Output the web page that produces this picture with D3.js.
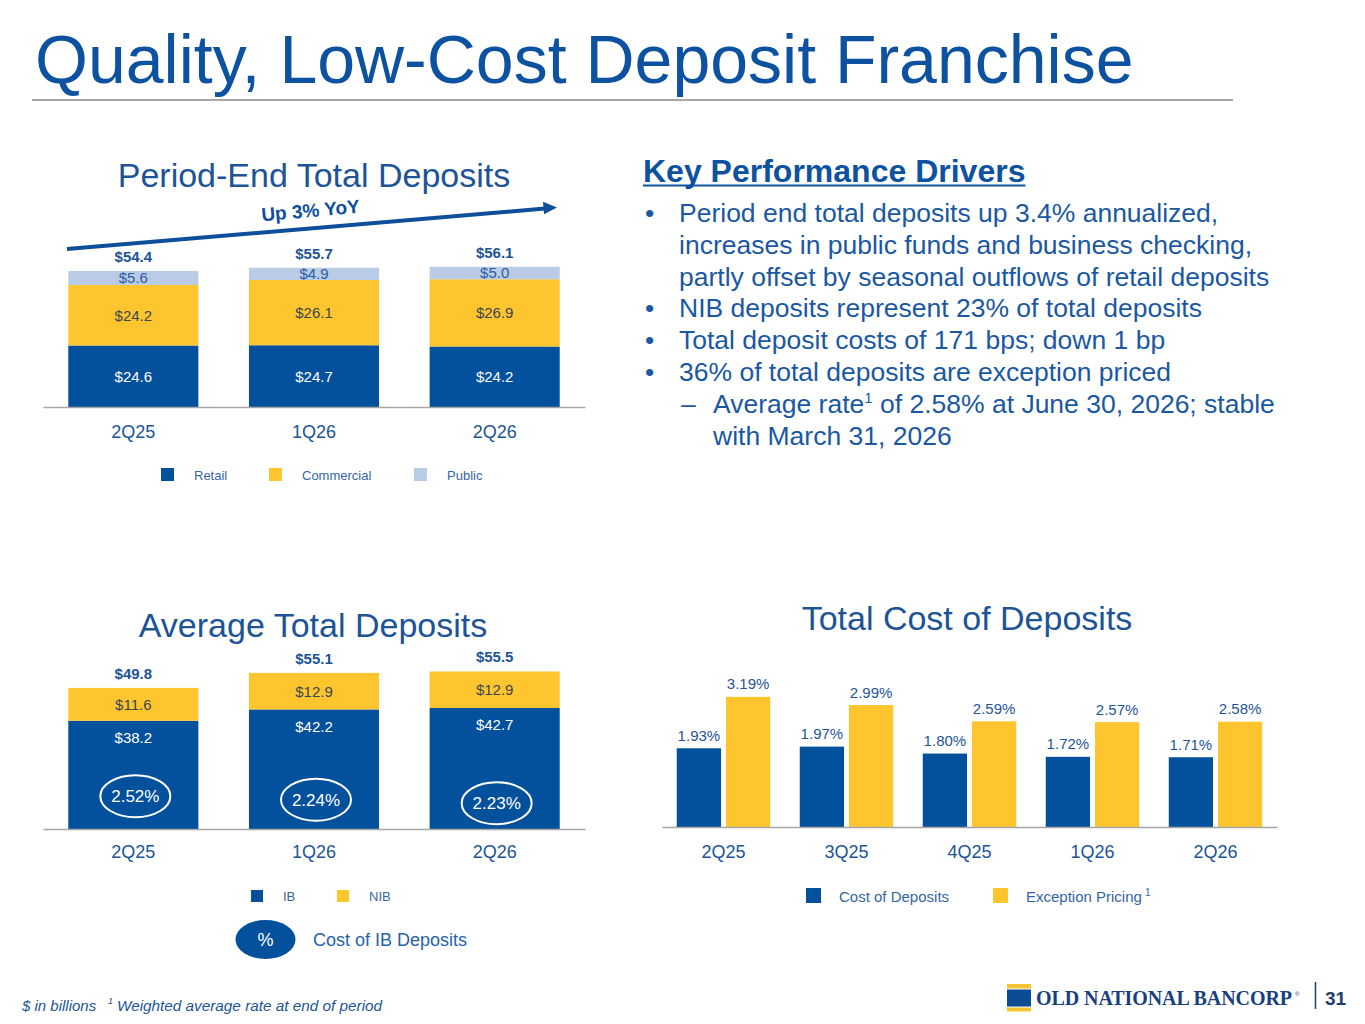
<!DOCTYPE html>
<html>
<head>
<meta charset="utf-8">
<script src="https://cdn.jsdelivr.net/npm/d3@7"></script>
<style>
body{margin:0;background:#fff}
svg{display:block;font-family:"Liberation Sans",Arial,sans-serif}
</style>
</head>
<body>
<div id="slide"></div>
<script>
// period-end deposits ($B)
const periodEndQuarters = ["2Q25","1Q26","2Q26"]
const retail = [24.6,24.7,24.2]
const commercial = [24.2,26.1,26.9]
const publicFunds = [5.6,4.9,5.0]
const periodEndTotals = [54.4,55.7,56.1]

// average deposits ($B)
const avgQuarters = ["2Q25","1Q26","2Q26"]
const ib = [38.2,42.2,42.7]
const nib = [11.6,12.9,12.9]
const avgTotals = [49.8,55.1,55.5]
const ibCost = [2.52,2.24,2.23]

// total cost of deposits (%)
const costQuarters = ["2Q25","3Q25","4Q25","1Q26","2Q26"]
const costOfDeposits = [1.93,1.97,1.80,1.72,1.71]
const exceptionPricing = [3.19,2.99,2.59,2.57,2.58]

const navy = "#03509c", gold = "#fec52e", light = "#b9cbe5"
const blueText = "#1c5496", font = "Liberation Sans, Arial, sans-serif"

const svg = d3.select("#slide").append("svg")
    .attr("width", 1365)
    .attr("height", 1024)

// header
svg.append("text")
    .attr("x", 35).attr("y", 83)
    .attr("font-size", 68)
    .attr("fill", "#0d52a0")
    .text("Quality, Low-Cost Deposit Franchise")

svg.append("line")
    .attr("x1", 32).attr("x2", 1233)
    .attr("y1", 100).attr("y2", 100)
    .attr("stroke", "#a6a6a6").attr("stroke-width", 2)

function chartTitle(txt, x, y) {
    svg.append("text")
        .attr("x", x).attr("y", y)
        .attr("text-anchor", "middle")
        .attr("font-size", 34)
        .attr("fill", blueText)
        .text(txt)
}

function styleAxis(g, size) {
    g.attr("font-family", font).attr("font-size", size)
    g.select(".domain").attr("stroke", "#a6a6a6").attr("stroke-width", 1.6)
    g.selectAll("text").attr("fill", blueText)
}

function legendItem(x, y, size, color, label, fs) {
    svg.append("rect")
        .attr("x", x).attr("y", y)
        .attr("width", size).attr("height", size)
        .attr("fill", color)
    return svg.append("text")
        .attr("x", x + size + (fs > 14 ? 18 : 20)).attr("y", y + size - 1)
        .attr("font-size", fs)
        .attr("fill", "#3565a5")
        .text(label)
}

// ---------- Period-End Total Deposits ----------
chartTitle("Period-End Total Deposits", 314, 187)

const x1 = d3.scaleBand()
    .domain(periodEndQuarters)
    .range([43, 585])
    .paddingInner(0.28)
    .paddingOuter(0.14)

const y1 = d3.scaleLinear()
    .domain([0, 60])
    .range([407, 257])

const peRows = periodEndQuarters.map((q, i) => ({q: q, Retail: retail[i], Commercial: commercial[i], Public: publicFunds[i]}))
const peStack = d3.stack().keys(["Retail","Commercial","Public"])(peRows)
const peColors = {Retail: navy, Commercial: gold, Public: light}
const peLabelColors = {Retail: "#fff", Commercial: "#3b4650", Public: "#2c5da3"}

peStack.forEach(layer => {
    const g = svg.append("g")
    g.selectAll("rect")
        .data(layer)
        .enter().append("rect")
        .attr("x", d => x1(d.data.q))
        .attr("width", x1.bandwidth())
        .attr("y", d => y1(d[1]))
        .attr("height", d => y1(d[0]) - y1(d[1]))
        .attr("fill", peColors[layer.key])
    g.selectAll("text")
        .data(layer)
        .enter().append("text")
        .attr("x", d => x1(d.data.q) + x1.bandwidth() / 2)
        .attr("y", d => (y1(d[0]) + y1(d[1])) / 2)
        .attr("dy", "0.36em")
        .attr("text-anchor", "middle")
        .attr("font-size", 15)
        .attr("fill", peLabelColors[layer.key])
        .text(d => "$" + (d[1] - d[0]).toFixed(1))
})

svg.selectAll(".peTotal")
    .data(periodEndTotals)
    .enter().append("text")
    .attr("class", "peTotal")
    .attr("x", (d, i) => x1(periodEndQuarters[i]) + x1.bandwidth() / 2)
    .attr("y", (d, i) => y1(d3.sum([retail[i], commercial[i], publicFunds[i]])) - 9)
    .attr("text-anchor", "middle")
    .attr("font-size", 15)
    .attr("font-weight", "bold")
    .attr("fill", "#1c5496")
    .text(d => "$" + d.toFixed(1))

svg.append("g")
    .attr("transform", "translate(0,407)")
    .call(d3.axisBottom(x1).tickSize(0).tickSizeOuter(0).tickPadding(18))
    .call(g => styleAxis(g, 18))

// growth arrow
const arrowColor = "#0d4f9a"
svg.append("line")
    .attr("x1", 67).attr("y1", 249)
    .attr("x2", 545).attr("y2", 208.5)
    .attr("stroke", arrowColor).attr("stroke-width", 4)
svg.append("path")
    .attr("d", "M557,207.5 L543,201.8 L544,214.2 Z")
    .attr("fill", arrowColor)
svg.append("text")
    .attr("transform", "translate(311,217) rotate(-5)")
    .attr("text-anchor", "middle")
    .attr("font-size", 19)
    .attr("font-weight", "bold")
    .attr("fill", arrowColor)
    .text("Up 3% YoY")

legendItem(161, 468, 13, navy, "Retail", 13)
legendItem(269, 468, 13, gold, "Commercial", 13)
legendItem(414, 468, 13, light, "Public", 13)

// ---------- Average Total Deposits ----------
chartTitle("Average Total Deposits", 313, 637)

const x2 = d3.scaleBand()
    .domain(avgQuarters)
    .range([43, 585])
    .paddingInner(0.28)
    .paddingOuter(0.14)

const y2 = d3.scaleLinear()
    .domain([0, 60])
    .range([829, 659])

svg.selectAll(".ib")
    .data(ib)
    .enter().append("rect")
    .attr("x", (d, i) => x2(avgQuarters[i]))
    .attr("width", x2.bandwidth())
    .attr("y", d => y2(d))
    .attr("height", d => y2(0) - y2(d))
    .attr("fill", navy)

svg.selectAll(".nib")
    .data(nib)
    .enter().append("rect")
    .attr("x", (d, i) => x2(avgQuarters[i]))
    .attr("width", x2.bandwidth())
    .attr("y", (d, i) => y2(ib[i] + d))
    .attr("height", d => y2(0) - y2(d))
    .attr("fill", gold)

svg.selectAll(".ibLabel")
    .data(ib)
    .enter().append("text")
    .attr("x", (d, i) => x2(avgQuarters[i]) + x2.bandwidth() / 2)
    .attr("y", d => y2(d) + 17)
    .attr("dy", "0.36em")
    .attr("text-anchor", "middle")
    .attr("font-size", 15)
    .attr("fill", "#fff")
    .text(d => "$" + d.toFixed(1))

svg.selectAll(".nibLabel")
    .data(nib)
    .enter().append("text")
    .attr("x", (d, i) => x2(avgQuarters[i]) + x2.bandwidth() / 2)
    .attr("y", (d, i) => (y2(ib[i]) + y2(ib[i] + d)) / 2)
    .attr("dy", "0.36em")
    .attr("text-anchor", "middle")
    .attr("font-size", 15)
    .attr("fill", "#3b4650")
    .text(d => "$" + d.toFixed(1))

svg.selectAll(".avgTotal")
    .data(avgTotals)
    .enter().append("text")
    .attr("x", (d, i) => x2(avgQuarters[i]) + x2.bandwidth() / 2)
    .attr("y", (d, i) => y2(ib[i] + nib[i]) - 9)
    .attr("text-anchor", "middle")
    .attr("font-size", 15)
    .attr("font-weight", "bold")
    .attr("fill", "#1c5496")
    .text(d => "$" + d.toFixed(1))

// cost of IB deposits ovals
const ovals = svg.selectAll(".oval")
    .data(ibCost)
    .enter().append("g")
    .attr("transform", (d, i) => "translate(" + (x2(avgQuarters[i]) + x2.bandwidth() / 2 + 2) + "," + (y2(11.6) + i * 3.5) + ")")
ovals.append("ellipse")
    .attr("rx", 35).attr("ry", 21)
    .attr("fill", "none")
    .attr("stroke", "#fff").attr("stroke-width", 2)
ovals.append("text")
    .attr("dy", "0.36em")
    .attr("text-anchor", "middle")
    .attr("font-size", 17)
    .attr("fill", "#fff")
    .text(d => d.toFixed(2) + "%")

svg.append("g")
    .attr("transform", "translate(0,829)")
    .call(d3.axisBottom(x2).tickSize(0).tickSizeOuter(0).tickPadding(16))
    .call(g => styleAxis(g, 18))

legendItem(251, 890, 12, navy, "IB", 13)
legendItem(337, 890, 12, gold, "NIB", 13)

svg.append("ellipse")
    .attr("cx", 265.5).attr("cy", 939.5)
    .attr("rx", 30).attr("ry", 19.5)
    .attr("fill", navy)
svg.append("text")
    .attr("x", 265.5).attr("y", 939.5)
    .attr("dy", "0.36em")
    .attr("text-anchor", "middle")
    .attr("font-size", 18)
    .attr("fill", "#fff")
    .text("%")
svg.append("text")
    .attr("x", 313).attr("y", 946)
    .attr("font-size", 18)
    .attr("fill", "#2563ab")
    .text("Cost of IB Deposits")

// ---------- Total Cost of Deposits ----------
chartTitle("Total Cost of Deposits", 967, 630)

const x3 = d3.scaleBand()
    .domain(costQuarters)
    .range([662, 1277])
    .paddingInner(0.24)
    .paddingOuter(0.12)

const xs = d3.scaleBand()
    .domain(["cost","exception"])
    .range([0, x3.bandwidth()])
    .paddingInner(0.1)

const y3 = d3.scaleLinear()
    .domain([0, 4])
    .range([827, 827 - 163.2])

const costRows = costQuarters.map((q, i) => ({q: q, cost: costOfDeposits[i], exception: exceptionPricing[i]}))
const groups = svg.selectAll(".grp")
    .data(costRows)
    .enter().append("g")
    .attr("transform", d => "translate(" + x3(d.q) + ",0)")

groups.selectAll("rect")
    .data(d => ["cost","exception"].map(k => ({key: k, value: d[k]})))
    .enter().append("rect")
    .attr("x", d => xs(d.key))
    .attr("width", xs.bandwidth())
    .attr("y", d => y3(d.value))
    .attr("height", d => y3(0) - y3(d.value))
    .attr("fill", d => d.key == "cost" ? navy : gold)

groups.selectAll("text")
    .data(d => ["cost","exception"].map(k => ({key: k, value: d[k]})))
    .enter().append("text")
    .attr("x", d => xs(d.key) + xs.bandwidth() / 2)
    .attr("y", d => y3(d.value) - 7.5)
    .attr("text-anchor", "middle")
    .attr("font-size", 15)
    .attr("fill", "#1f5597")
    .text(d => d.value.toFixed(2) + "%")

svg.append("g")
    .attr("transform", "translate(0,827)")
    .call(d3.axisBottom(x3).tickSize(0).tickSizeOuter(0).tickPadding(18))
    .call(g => styleAxis(g, 18))

legendItem(806, 888, 15, navy, "Cost of Deposits", 15)
legendItem(993, 888, 15, gold, "Exception Pricing", 15)
svg.append("text")
    .attr("x", 1145).attr("y", 896)
    .attr("font-size", 10)
    .attr("fill", "#3565a5")
    .text("1")

// ---------- Key Performance Drivers ----------
const drivers = [
    {level: 1, lines: ["Period end total deposits up 3.4% annualized,", "increases in public funds and business checking,", "partly offset by seasonal outflows of retail deposits"]},
    {level: 1, lines: ["NIB deposits represent 23% of total deposits"]},
    {level: 1, lines: ["Total deposit costs of 171 bps; down 1 bp"]},
    {level: 1, lines: ["36% of total deposits are exception priced"]},
    {level: 2, lines: ["Average rate|1| of 2.58% at June 30, 2026; stable", "with March 31, 2026"]}
]

const kpd = svg.append("text")
    .attr("x", 643).attr("y", 182)
    .attr("font-size", 32)
    .attr("font-weight", "bold")
    .attr("fill", "#0d52a0")
    .text("Key Performance Drivers")
svg.append("line")
    .attr("x1", 643).attr("x2", 643 + kpd.node().getComputedTextLength())
    .attr("y1", 185.5).attr("y2", 185.5)
    .attr("stroke", "#0d52a0").attr("stroke-width", 2.2)

let row = 0
drivers.forEach(item => {
    item.lines.forEach((line, j) => {
        const yy = 222 + row * 31.8
        if (j == 0) {
            svg.append("text")
                .attr("x", item.level == 1 ? 645 : 681).attr("y", yy)
                .attr("font-size", 26.5)
                .attr("fill", "#1a58a3")
                .text(item.level == 1 ? "\u2022" : "\u2013")
        }
        const t = svg.append("text")
            .attr("x", item.level == 1 ? 679 : 713).attr("y", yy)
            .attr("font-size", 26.5)
            .attr("fill", "#1a58a3")
        const parts = line.split("|")
        t.append("tspan").text(parts[0])
        if (parts.length > 1) {
            t.append("tspan").attr("font-size", 15).attr("dy", -10).text(parts[1])
            t.append("tspan").attr("dy", 10).text(parts[2])
        }
        row++
    })
})

// ---------- footer ----------
svg.append("text")
    .attr("x", 22).attr("y", 1011)
    .attr("font-size", 15).attr("font-style", "italic")
    .attr("fill", "#1c5496")
    .text("$ in billions")
svg.append("text")
    .attr("x", 108).attr("y", 1004)
    .attr("font-size", 9).attr("font-style", "italic")
    .attr("fill", "#1c5496")
    .text("1")
svg.append("text")
    .attr("x", 117).attr("y", 1011)
    .attr("font-size", 15.3).attr("font-style", "italic")
    .attr("fill", "#1c5496")
    .text("Weighted average rate at end of period")

// logo
svg.append("rect").attr("x", 1007).attr("y", 984).attr("width", 24).attr("height", 4.5).attr("fill", "#f5c431")
svg.append("rect").attr("x", 1007).attr("y", 989.5).attr("width", 24).attr("height", 17).attr("fill", "#0b4c94")
svg.append("rect").attr("x", 1007).attr("y", 1007.5).attr("width", 24).attr("height", 4).attr("fill", "#f5c431")
svg.append("text")
    .attr("x", 1036).attr("y", 1004.5)
    .attr("font-family", "Liberation Serif, Times New Roman, serif")
    .attr("font-weight", "bold")
    .attr("font-size", 20)
    .attr("textLength", 256)
    .attr("fill", "#18407e")
    .text("OLD NATIONAL BANCORP")
svg.append("text")
    .attr("x", 1295).attr("y", 996)
    .attr("font-size", 6)
    .attr("fill", "#18407e")
    .text("\u00ae")
svg.append("line")
    .attr("x1", 1315.5).attr("x2", 1315.5)
    .attr("y1", 982).attr("y2", 1009)
    .attr("stroke", "#1f3f6f").attr("stroke-width", 1.5)
svg.append("text")
    .attr("x", 1325).attr("y", 1004.5)
    .attr("font-size", 19)
    .attr("font-weight", "bold")
    .attr("fill", "#1f3f6f")
    .text("31")
</script>
</body>
</html>
